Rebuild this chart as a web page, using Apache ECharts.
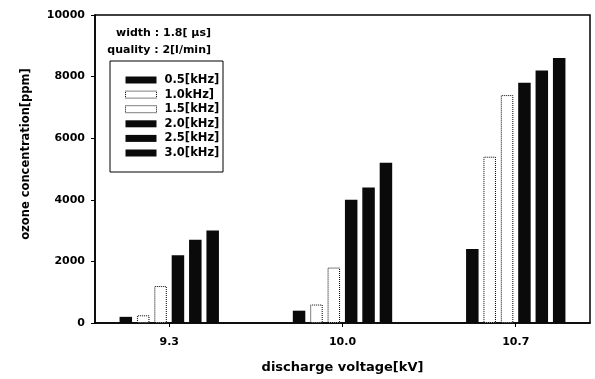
<!DOCTYPE html>
<html>
<head>
<meta charset="utf-8">
<script src="https://cdn.jsdelivr.net/npm/echarts@6/dist/echarts.min.js"></script>
<style>html,body{margin:0;padding:0;background:#fff}#c{width:595px;height:379px}</style>
</head>
<body>
<div id="c"></div>
<script>
const voltages = [9.3, 10.0, 10.7];
const seriesNames = ['0.5[kHz]', '1.0kHz]', '1.5[kHz]', '2.0[kHz]', '2.5[kHz]', '3.0[kHz]'];
const f05 = [200, 400, 2400];
const f10 = [250, 600, 5400];
const f15 = [1200, 1800, 7400];
const f20 = [2200, 4000, 7800];
const f25 = [2700, 4400, 8200];
const f30 = [3000, 5200, 8600];
const yTicks = [0, 2000, 4000, 6000, 8000, 10000];
const hollow = [false, true, true, false, false, false];
const values = [f05, f10, f15, f20, f25, f30];
const xTitle = 'discharge voltage[kV]';
const yTitle = 'ozone concentration[ppm]';

const FONT = 'DejaVu Sans';
function styleFor(i) {
  return hollow[i]
    ? {color: '#fff', borderColor: '#000', borderWidth: 1, borderType: 'dotted'}
    : {color: '#0a0a0a', borderColor: '#0a0a0a', borderWidth: 0};
}
const series = seriesNames.map((n, i) => ({
  name: n,
  type: 'bar',
  barWidth: 12.5,
  barGap: '39%',
  itemStyle: styleFor(i),
  data: voltages.map((v, k) => [v, values[i][k]])
}));

const chart = echarts.init(document.getElementById('c'), null, {renderer: 'canvas'});
chart.setOption({
  animation: false,
  backgroundColor: '#fff',
  grid: {left: 95, top: 15, right: 5, bottom: 56, show: true, borderColor: '#000', borderWidth: 1.5},
  xAxis: {
    type: 'value', min: 9, max: 11,
    name: xTitle, nameLocation: 'middle', nameGap: 38, nameMoveOverlap: false,
    nameTextStyle: {fontFamily: FONT, fontSize: 13, fontWeight: 'bold', color: '#000'},
    splitLine: {show: false},
    axisLine: {lineStyle: {color: '#000', width: 1.5}},
    axisTick: {customValues: voltages, length: 4, lineStyle: {color: '#000'}},
    axisLabel: {customValues: voltages, formatter: v => v.toFixed(1), fontFamily: FONT, fontSize: 11, fontWeight: 'bold', color: '#000', margin: 14}
  },
  yAxis: {
    type: 'value', min: 0, max: 10000, interval: 2000,
    splitLine: {show: false},
    axisLine: {show: true, lineStyle: {color: '#000', width: 1.5}},
    axisTick: {show: true, length: 4, lineStyle: {color: '#000'}},
    axisLabel: {formatter: v => String(v), fontFamily: FONT, fontSize: 11, fontWeight: 'bold', color: '#000', margin: 10}
  },
  legend: {
    orient: 'vertical', left: 120, top: 68,
    itemWidth: 31, itemHeight: 7, itemGap: 0.6, icon: 'rect',
    textStyle: {fontFamily: FONT, fontSize: 11.5, fontWeight: 'bold', color: '#000', lineHeight: 14, padding: [0, 0, 0, 3]},
    data: seriesNames.map((n, i) => ({name: n, itemStyle: styleFor(i)}))
  },
  graphic: [
    {type: 'text', x: 26, y: 154, rotation: Math.PI / 2, style: {text: yTitle, fontFamily: FONT, fontSize: 11.5, fontWeight: 'bold', fill: '#000', align: 'center', verticalAlign: 'middle'}, z: 100},
    {type: 'rect', shape: {x: 110, y: 61, width: 113, height: 111}, style: {fill: 'none', stroke: '#000', lineWidth: 1}, z: 100},
    {type: 'text', x: 211, y: 33, style: {text: 'width : 1.8[ μs]', fontFamily: FONT, fontSize: 11, fontWeight: 'bold', fill: '#000', align: 'right', verticalAlign: 'middle'}, z: 100},
    {type: 'text', x: 211, y: 50, style: {text: 'quality : 2[l/min]', fontFamily: FONT, fontSize: 11, fontWeight: 'bold', fill: '#000', align: 'right', verticalAlign: 'middle'}, z: 100}
  ],
  series: series
});
</script>
</body>
</html>
